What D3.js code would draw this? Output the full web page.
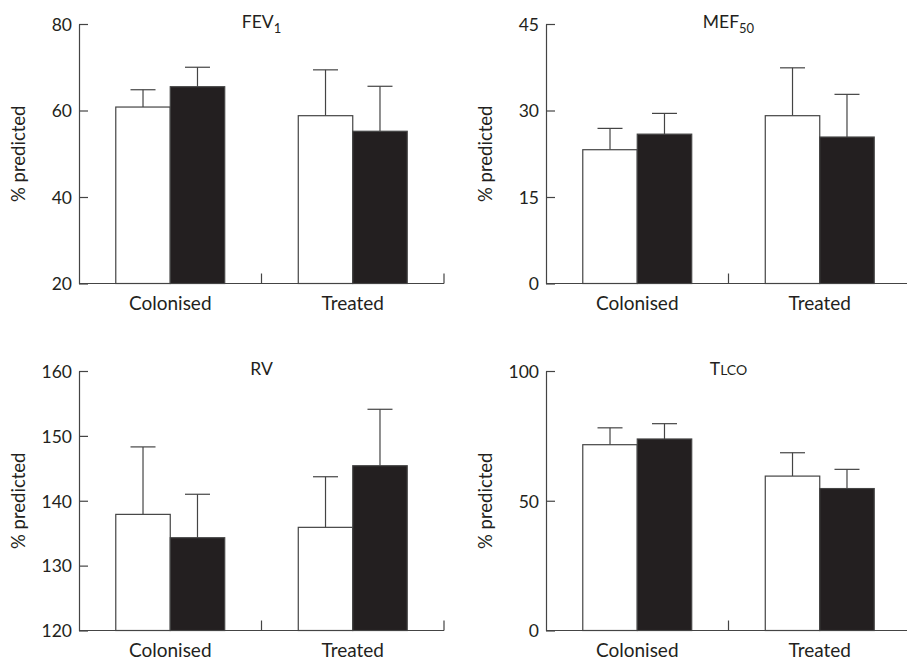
<!DOCTYPE html>
<html><head><meta charset="utf-8">
<script src="https://cdn.jsdelivr.net/npm/d3@7/dist/d3.min.js"></script>
<style>body{margin:0;background:#fff}svg{display:block}text{font-family:Lato,"DejaVu Sans",sans-serif;fill:#231f20}</style>
</head><body><svg id="c" width="907" height="659"></svg>
<script>
const categories = ["Colonised", "Treated"];
const seriesNames = ["open", "filled"];
const panelTitles = ["FEV", "MEF", "RV", "T"];
const titleSubs = ["1", "50", "", ""];
const titleSmallCaps = ["", "", "", "LCO"];
const yDomains = [[20, 80], [0, 45], [120, 160], [0, 100]];
const yTicks = [[20, 40, 60, 80], [0, 15, 30, 45], [120, 130, 140, 150, 160], [0, 50, 100]];
// values [category][series]
const fevMean = [[60.8, 65.5], [58.8, 55.2]];
const fevErr  = [[64.8, 70.0], [69.4, 65.6]];
const mefMean = [[23.2, 25.9], [29.1, 25.4]];
const mefErr  = [[26.9, 29.5], [37.4, 32.8]];
const rvMean  = [[137.9, 134.3], [135.9, 145.4]];
const rvErr   = [[148.3, 141.0], [143.7, 154.1]];
const tlcoMean = [[71.6, 73.8], [59.5, 54.7]];
const tlcoErr  = [[78.1, 79.7], [68.5, 62.1]];
const means = [fevMean, mefMean, rvMean, tlcoMean];
const errs = [fevErr, mefErr, rvErr, tlcoErr];

const svg = d3.select("#c");
const W = 365, H = 259.5;
const origins = [[79, 24], [546, 24], [79, 371], [546, 371]];
const lineCol = "#444";
const sw = 1.2;

const x0 = d3.scaleBand().domain(categories).range([0, W]);
const x1 = d3.scaleBand().domain(seriesNames).range([0, x0.bandwidth()]).paddingInner(0).paddingOuter(0.675);
const fill = d3.scaleOrdinal().domain(seriesNames).range(["#ffffff", "#231f20"]);

for (let p = 0; p < 4; p++) {
  const g = svg.append("g").attr("transform", `translate(${origins[p][0]},${origins[p][1]})`);
  const y = d3.scaleLinear().domain(yDomains[p]).range([H, 0]);

  categories.forEach((c, ci) => {
    seriesNames.forEach((s, si) => {
      const bx = x0(c) + x1(s);
      const cx = bx + x1.bandwidth() / 2;
      const m = means[p][ci][si], e = errs[p][ci][si];
      g.append("line").attr("x1", cx).attr("x2", cx).attr("y1", y(m)).attr("y2", y(e))
        .attr("stroke", lineCol).attr("stroke-width", sw);
      g.append("line").attr("x1", cx - 12.5).attr("x2", cx + 12.5).attr("y1", y(e)).attr("y2", y(e))
        .attr("stroke", lineCol).attr("stroke-width", sw);
      g.append("rect").attr("x", bx).attr("y", y(m)).attr("width", x1.bandwidth()).attr("height", H - y(m))
        .attr("fill", fill(s)).attr("stroke", lineCol).attr("stroke-width", sw);
    });
  });

  const ya = g.append("g").call(d3.axisLeft(y).tickValues(yTicks[p]).tickSizeInner(-9).tickSizeOuter(0).tickPadding(7));
  ya.select(".domain").attr("stroke", lineCol).attr("stroke-width", sw);
  ya.selectAll(".tick line").attr("stroke", lineCol).attr("stroke-width", sw);
  ya.selectAll(".tick text").attr("font-size", 17.5).attr("font-family", "Lato, sans-serif").attr("fill", "#231f20").attr("dy", "0.36em");

  const xa = g.append("g").attr("transform", `translate(0,${H})`);
  xa.append("line").attr("x1", 0).attr("x2", W).attr("stroke", lineCol).attr("stroke-width", sw);
  categories.forEach(c => {
    const tx = x0(c) + x0.bandwidth();
    xa.append("line").attr("x1", tx).attr("x2", tx).attr("y1", 0).attr("y2", -10).attr("stroke", lineCol).attr("stroke-width", sw);
    xa.append("text").attr("x", x0(c) + x0.bandwidth() / 2).attr("y", 26).attr("text-anchor", "middle")
      .attr("font-size", 19).text(c);
  });

  g.append("text").attr("transform", `translate(${-54},${H / 2}) rotate(-90)`).attr("text-anchor", "middle")
    .attr("font-size", 18.5).text("% predicted");

  const t = g.append("text").attr("x", x0.bandwidth()).attr("y", 4).attr("text-anchor", "middle").attr("font-size", 17.5);
  t.append("tspan").text(panelTitles[p]);
  if (titleSubs[p]) t.append("tspan").attr("font-size", 13).attr("dy", 5).text(titleSubs[p]);
  if (titleSmallCaps[p]) t.append("tspan").attr("font-size", 14).text(titleSmallCaps[p]);
}
</script></body></html>
